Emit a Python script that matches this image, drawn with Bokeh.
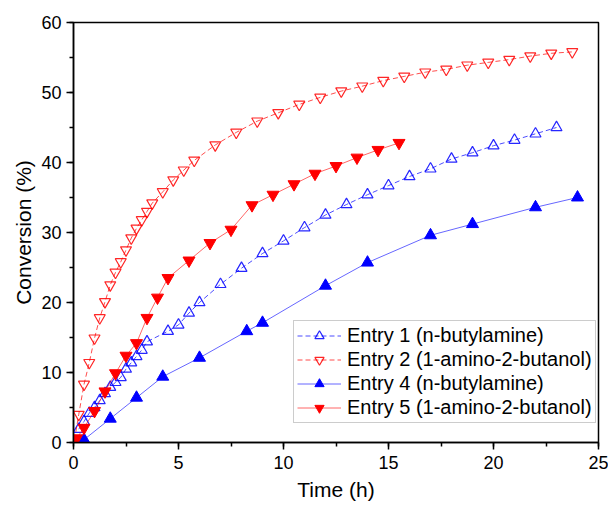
from bokeh.plotting import figure
from bokeh.models import Range1d, SingleIntervalTicker, Legend, LegendItem
from bokeh.embed import file_html
from bokeh.resources import INLINE

# Entry 1 (n-butylamine) - open blue up-triangles
e1_t = [0.25, 0.5, 0.75, 1.0, 1.25, 1.5, 1.75, 2.0, 2.25, 2.5, 2.75, 3.0, 3.25, 3.5,
        4.5, 5.0, 5.5, 6.0, 7, 8, 9, 10, 11, 12, 13, 14, 15, 16, 17, 18, 19, 20, 21, 22, 23]
e1_c = [1.9, 3.0, 4.2, 5.0, 6.0, 7.0, 7.9, 8.6, 9.3, 10.5, 11.4, 12.3, 13.2, 14.4,
        15.9, 16.8, 18.5, 20.0, 22.6, 24.9, 27.0, 28.8, 30.7, 32.5, 34.0, 35.4, 36.7,
        38.0, 39.1, 40.5, 41.4, 42.4, 43.2, 44.1, 45.0]

# Entry 2 (1-amino-2-butanol) - open red down-triangles
e2_t = [0.05, 0.25, 0.5, 0.75, 1.0, 1.25, 1.5, 1.75, 2.0, 2.25, 2.5, 2.75, 3.0, 3.25, 3.5, 3.75,
        4.25, 4.75, 5.25, 5.75, 6.75, 7.75, 8.75, 9.75, 10.75, 11.75, 12.75, 13.75, 14.75,
        15.75, 16.75, 17.75, 18.75, 19.75, 20.75, 21.75, 22.75, 23.75]
e2_c = [0.4, 4.0, 8.3, 11.4, 14.9, 17.8, 20.1, 22.5, 24.3, 25.8, 27.5, 29.2, 30.6, 31.8, 33.0, 34.2,
        35.8, 37.5, 38.9, 40.3, 42.5, 44.3, 45.9, 47.1, 48.3, 49.3, 50.2, 50.9, 51.7,
        52.3, 52.9, 53.3, 53.9, 54.3, 54.7, 55.2, 55.6, 55.8]

# Entry 4 (n-butylamine) - filled blue up-triangles
e4_t = [0.5, 1.75, 3.0, 4.25, 6.0, 8.25, 9.0, 12.0, 14.0, 17.0, 19.0, 22.0, 24.0]
e4_c = [0.4, 3.4, 6.4, 9.4, 12.1, 15.9, 17.1, 22.4, 25.7, 29.6, 31.2, 33.6, 35.0]

# Entry 5 (1-amino-2-butanol) - filled red down-triangles
e5_t = [0.15, 0.5, 1.0, 1.5, 2.0, 2.5, 3.0, 3.5, 4.0, 4.5, 5.5, 6.5, 7.5, 8.5, 9.5, 10.5,
        11.5, 12.5, 13.5, 14.5, 15.5]
e5_c = [0.6, 2.1, 4.5, 7.3, 9.9, 12.4, 14.2, 17.8, 20.7, 23.5, 26.0, 28.5, 30.4, 33.9, 35.4,
        36.9, 38.4, 39.5, 40.7, 41.8, 42.8]

labels = ["Entry 1 (n-butylamine)", "Entry 2 (1-amino-2-butanol)",
          "Entry 4 (n-butylamine)", "Entry 5 (1-amino-2-butanol)"]

FONT = "Liberation Sans"

p = figure(width=608, height=503, output_backend="svg", toolbar_location=None,
           x_range=Range1d(0, 25), y_range=Range1d(0, 60),
           min_border_left=73, min_border_right=10, min_border_top=22, min_border_bottom=60)
p.xgrid.visible = False
p.ygrid.visible = False
p.outline_line_color = "black"
p.outline_line_width = 1.5
p.background_fill_color = "white"
p.border_fill_color = "white"

p.xaxis.ticker = SingleIntervalTicker(interval=5, num_minor_ticks=2)
p.yaxis.ticker = SingleIntervalTicker(interval=10, num_minor_ticks=2)
p.xaxis.axis_label = "Time (h)"
p.yaxis.axis_label = "Conversion (%)"
for ax in (p.xaxis, p.yaxis):
    ax.axis_line_width = 1.5
    ax.axis_line_color = "black"
    ax.major_tick_line_color = "black"
    ax.minor_tick_line_color = "black"
    ax.major_tick_line_width = 1.5
    ax.minor_tick_line_width = 1.5
    ax.major_tick_out = 7
    ax.major_tick_in = 0
    ax.minor_tick_out = 4
    ax.minor_tick_in = 0
    ax.major_label_text_font = FONT
    ax.major_label_text_font_size = "18px"
    ax.major_label_text_color = "black"
    ax.axis_label_text_font = FONT
    ax.axis_label_text_font_size = "21px"
    ax.axis_label_text_font_style = "normal"
    ax.axis_label_text_color = "black"
p.xaxis.major_label_standoff = 6
p.yaxis.major_label_standoff = 5
p.xaxis.axis_label_standoff = 6
p.yaxis.axis_label_standoff = 3

BLUE = "#0000ff"
RED = "#ff0000"

l1 = p.line(e1_t, e1_c, line_color=BLUE, line_width=1, line_alpha=0.7, line_dash="5 3")
m1 = p.scatter(e1_t, e1_c, marker="triangle", size=11, fill_color="white", fill_alpha=0.0,
               line_color=BLUE, line_width=1.2, line_alpha=0.85)
l2 = p.line(e2_t, e2_c, line_color=RED, line_width=1, line_alpha=0.7, line_dash="5 3")
m2 = p.scatter(e2_t, e2_c, marker="inverted_triangle", size=11, fill_color="white", fill_alpha=0.0,
               line_color=RED, line_width=1.2, line_alpha=0.85)
l4 = p.line(e4_t, e4_c, line_color=BLUE, line_width=1, line_alpha=0.6)
m4 = p.scatter(e4_t, e4_c, marker="triangle", size=12, fill_color=BLUE, line_color=BLUE)
l5 = p.line(e5_t, e5_c, line_color=RED, line_width=1, line_alpha=0.6)
m5 = p.scatter(e5_t, e5_c, marker="inverted_triangle", size=12, fill_color=RED, line_color=RED)

legend = Legend(items=[LegendItem(label=labels[0], renderers=[l1, m1]),
                       LegendItem(label=labels[1], renderers=[l2, m2]),
                       LegendItem(label=labels[2], renderers=[l4, m4]),
                       LegendItem(label=labels[3], renderers=[l5, m5])],
                location=(220, 19), orientation="vertical")
legend.label_text_font = FONT
legend.label_text_font_size = "20px"
legend.label_text_color = "black"
legend.glyph_width = 44
legend.glyph_height = 23
legend.label_height = 23
legend.label_standoff = 6
legend.spacing = 1
legend.padding = 3
legend.margin = 0
legend.label_text_line_height = 1.0
legend.border_line_color = "#999999"
legend.border_line_width = 1
legend.background_fill_alpha = 1.0
p.add_layout(legend, "center")

open("out.html", "w").write(file_html(p, INLINE))
